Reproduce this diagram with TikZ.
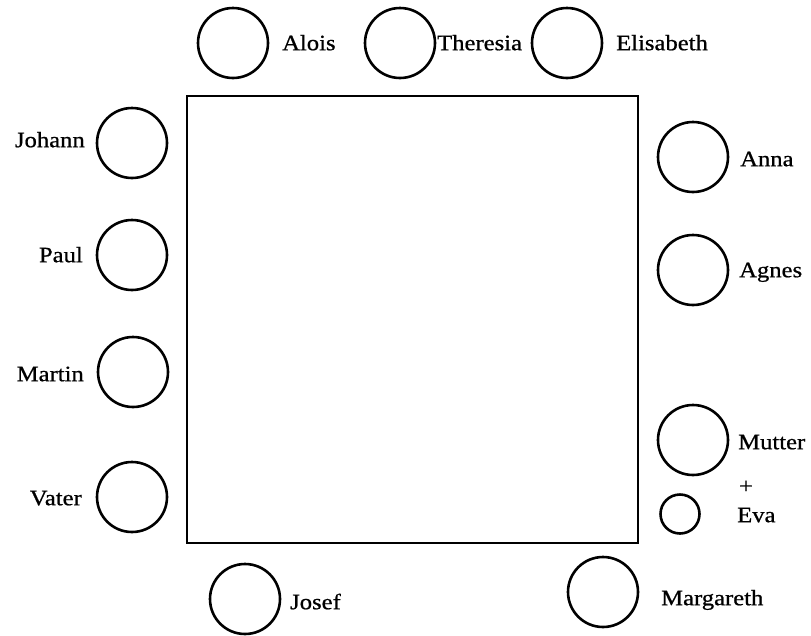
\documentclass[tikz,border=0pt]{standalone}
\usepackage{fontspec}
\setmainfont[FakeStretch=1.12,FakeBold=0.8]{Liberation Serif}
\begin{document}
\begin{tikzpicture}[x=1pt,y=-1pt,
  seat/.style={circle, draw, line width=2.6pt, minimum size=70pt, inner sep=0pt},
  smallseat/.style={circle, draw, line width=2.6pt, minimum size=39pt, inner sep=0pt},
  tablebox/.style={draw, line width=2.2pt, inner sep=0pt, minimum width=451pt, minimum height=447pt},
  lbl/.style={font=\fontsize{22pt}{26pt}\selectfont, inner sep=0pt, text height=14.4pt, text depth=0pt}]
\useasboundingbox (0,0) rectangle (811,635);
% table
\node[tablebox] (table) at (412.5,319.5) {};
% top
\node[seat] (alois) at (233,43) {};
\node[lbl, anchor=west] (aloisL) at (282,43) {Alois};
\node[seat] (theresia) at (400,43) {};
\node[lbl, anchor=west] (theresiaL) at (437,43) {Theresia};
\node[seat] (elisabeth) at (567,43) {};
\node[lbl, anchor=west] (elisabethL) at (616,43) {Elisabeth};
% left
\node[seat] (johann) at (132,143) {};
\node[lbl, anchor=east] (johannL) at (85,140) {Johann};
\node[seat] (paul) at (132,255) {};
\node[lbl, anchor=east] (paulL) at (83,255) {Paul};
\node[seat] (martin) at (133,372) {};
\node[lbl, anchor=east] (martinL) at (84,374) {Martin};
\node[seat] (vater) at (132,497) {};
\node[lbl, anchor=east] (vaterL) at (82,498) {Vater};
% right
\node[seat] (anna) at (693,157) {};
\node[lbl, anchor=west] (annaL) at (740,159) {Anna};
\node[seat] (agnes) at (693,270) {};
\node[lbl, anchor=west] (agnesL) at (739,270) {Agnes};
\node[seat] (mutter) at (693,440) {};
\node[lbl, anchor=west] (mutterL) at (738,442) {Mutter};
\node[lbl] (plus) at (746,486) {+};
\node[smallseat] (eva) at (680,514) {};
\node[lbl, anchor=west] (evaL) at (737,515) {Eva};
% bottom
\node[seat] (josef) at (245,599) {};
\node[lbl, anchor=west] (josefL) at (290,602) {Josef};
\node[seat] (margareth) at (603,592) {};
\node[lbl, anchor=west] (margarethL) at (661,598) {Margareth};
\end{tikzpicture}
\end{document}
